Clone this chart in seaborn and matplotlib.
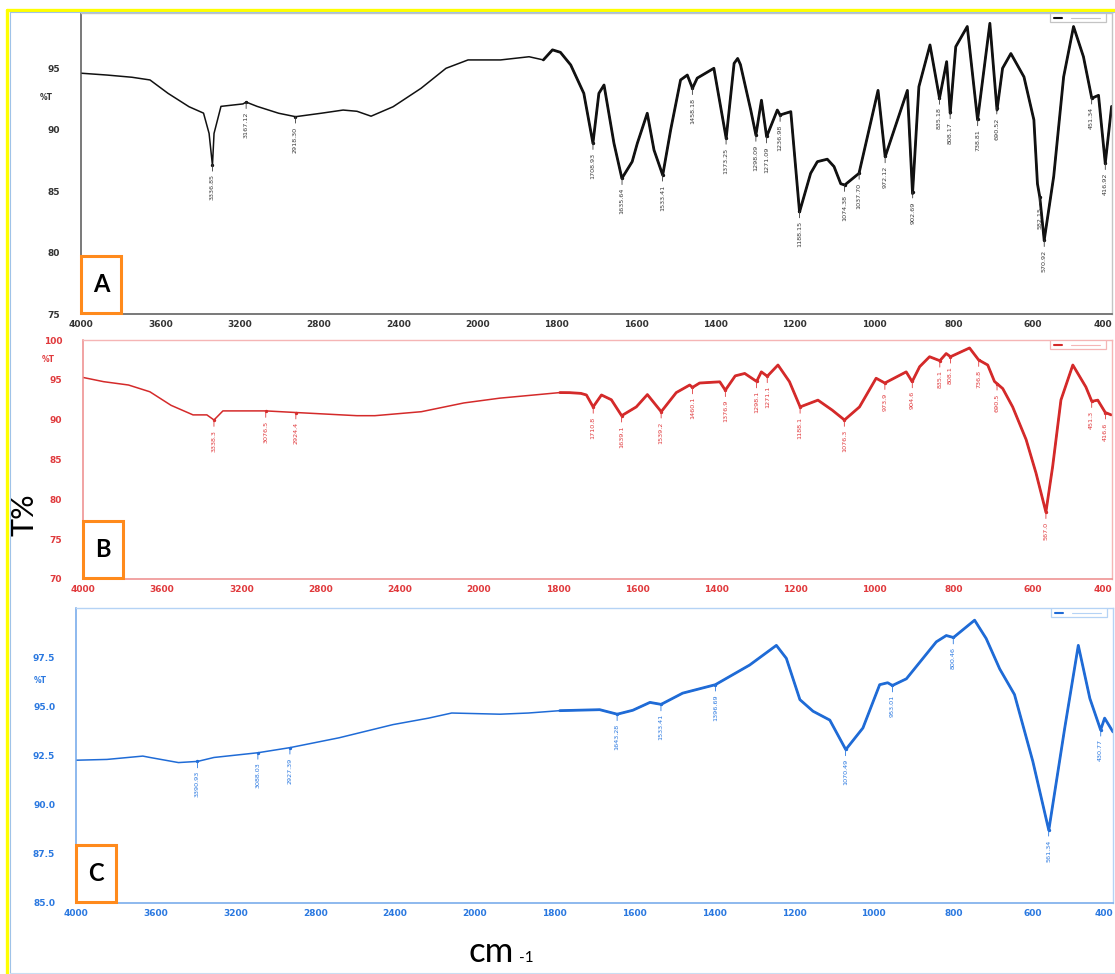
import numpy as np
import pandas as pd
import matplotlib
matplotlib.use("Agg")
import matplotlib.pyplot as plt
import matplotlib.transforms as mtransforms
from matplotlib.patches import Rectangle
from matplotlib.lines import Line2D
from matplotlib.ticker import FixedLocator, NullFormatter
import seaborn as sns

# ---------------- data ----------------
wn_a = [4000, 3869, 3743, 3652, 3561, 3455, 3382, 3354, 3337, 3329, 3294, 3183, 3167, 3112,
        3003, 2918, 2789, 2678, 2608, 2537, 2426, 2285, 2159, 2048, 1942, 1870, 1834, 1811,
        1791, 1765, 1732, 1709, 1694, 1681, 1656, 1636, 1610, 1597, 1572, 1555, 1533, 1513,
        1488, 1471, 1458, 1446, 1404, 1373, 1353, 1344, 1337, 1311, 1298, 1284, 1271, 1244,
        1237, 1210, 1188, 1160, 1143, 1118, 1101, 1084, 1074, 1038, 1017, 990, 972, 916, 903,
        887, 859, 835, 817, 808, 794, 765, 739, 708, 690, 676, 655, 622, 597, 588, 582, 571,
        547, 522, 497, 472, 451, 434, 417, 401]
t_a = [94.6, 94.45, 94.27, 94.05, 92.96, 91.87, 91.35, 89.7, 87.1, 89.7, 91.9, 92.1, 92.25, 91.9,
       91.34, 91.06, 91.34, 91.6, 91.5, 91.1, 91.87, 93.37, 95.0, 95.68, 95.68, 95.94, 95.68, 96.5,
       96.3, 95.27, 92.96, 88.9, 92.96, 93.64, 88.9, 86.04, 87.4, 88.9, 91.34, 88.35, 86.3, 89.98,
       94.05, 94.45, 93.37, 94.2, 95.0, 89.3, 95.4, 95.8, 95.3, 91.6, 89.57, 92.4, 89.43, 91.6,
       91.2, 91.47, 83.3, 86.45, 87.4, 87.6, 87.0, 85.6, 85.5, 86.45, 89.4, 93.2, 87.8, 93.2, 84.8,
       93.5, 96.9, 92.56, 95.54, 91.34, 96.76, 98.4, 90.8, 98.66, 91.6, 95.0, 96.2, 94.3, 90.8,
       85.6, 84.5, 81.0, 86.2, 94.3, 98.4, 95.94, 92.56, 92.8, 87.26, 91.9]
peaks_a = [3336.85, 3167.12, 2918.30, 1708.93, 1635.64, 1533.41, 1458.18, 1373.25, 1298.09,
           1271.09, 1236.98, 1188.15, 1074.38, 1037.70, 972.12, 902.69, 835.18, 808.17, 738.81,
           690.52, 582.15, 570.92, 451.34, 416.92]

wn_b = [4000, 3896, 3770, 3662, 3555, 3444, 3374, 3338, 3293, 3076, 2926, 2616, 2525, 2290,
        2075, 1947, 1795, 1770, 1742, 1728, 1711, 1690, 1665, 1639, 1602, 1574, 1539, 1501,
        1467, 1460, 1442, 1391, 1377, 1352, 1328, 1298, 1286, 1271, 1244, 1215, 1188, 1143,
        1107, 1076, 1038, 996, 974, 920, 905, 886, 861, 835, 819, 808, 760, 737, 714, 697,
        690, 676, 651, 617, 592, 567, 550, 529, 499, 466, 451, 436, 417, 402]
t_b = [95.3, 94.77, 94.35, 93.5, 91.8, 90.6, 90.6, 89.96, 91.1, 91.1, 90.9, 90.5, 90.5, 91.0,
       92.1, 92.7, 93.4, 93.39, 93.3, 93.1, 91.6, 93.1, 92.5, 90.5, 91.6, 93.15, 91.0, 93.4,
       94.35, 94.05, 94.6, 94.75, 93.7, 95.5, 95.8, 94.8, 96.0, 95.45, 96.86, 94.77, 91.6, 92.45,
       91.2, 89.96, 91.6, 95.2, 94.6, 96.0, 94.77, 96.65, 97.9, 97.4, 98.3, 97.9, 99.0, 97.5,
       96.86, 94.8, 94.5, 93.9, 91.6, 87.5, 83.3, 78.4, 84.1, 92.47, 96.86, 94.1, 92.3, 92.45,
       90.9, 90.6]
peaks_b = [3338.3, 3076.5, 2924.4, 1710.8, 1639.1, 1539.2, 1460.1, 1376.9, 1298.1, 1271.1,
           1188.1, 1076.3, 973.9, 904.6, 835.1, 808.1, 736.8, 690.5, 567.0, 451.3, 416.6]

wn_c = [4000, 3845, 3665, 3629, 3486, 3390, 3308, 3088, 2927, 2681, 2411, 2232, 2116, 1937,
        1866, 1787, 1687, 1643, 1604, 1561, 1533, 1479, 1397, 1311, 1244, 1219, 1185, 1152,
        1110, 1070, 1027, 985, 965, 953, 918, 843, 818, 800, 747, 718, 684, 647, 601, 561,
        521, 487, 458, 431, 421, 400]
t_c = [92.26, 92.3, 92.47, 92.4, 92.14, 92.2, 92.4, 92.64, 92.9, 93.4, 94.07, 94.4, 94.66, 94.6,
       94.66, 94.78, 94.83, 94.6, 94.8, 95.2, 95.1, 95.67, 96.1, 97.1, 98.1, 97.44, 95.34, 94.75,
       94.3, 92.8, 93.9, 96.1, 96.2, 96.06, 96.4, 98.28, 98.6, 98.5, 99.38, 98.45, 96.9, 95.6,
       92.2, 88.7, 93.9, 98.1, 95.4, 93.8, 94.4, 93.7]
peaks_c = [3390.93, 3088.03, 2927.39, 1643.28, 1533.41, 1396.69, 1070.49, 953.01, 800.46,
           561.34, 430.77]

x_major = [4000, 3600, 3200, 2800, 2400, 2000, 1800, 1600, 1400, 1200, 1000, 800, 600, 400]
panel_letters = ["A", "B", "C"]

# ---------------- style ----------------
sns.set_style("white")
plt.rcParams["font.family"] = ["DejaVu Sans"]
plt.rcParams["lines.solid_joinstyle"] = "round"

W, H = 1115, 974
fig = plt.figure(figsize=(W / 100, H / 100), dpi=100)


def rect(l, t, r, b):
    return [l / W, 1 - b / H, (r - l) / W, (b - t) / H]


def fwd(x):
    x = np.asarray(x, dtype=float)
    return np.where(x <= 2000, x, 2000 + (x - 2000) / 2.0)


def inv(y):
    y = np.asarray(y, dtype=float)
    return np.where(y <= 2000, y, 2000 + (y - 2000) * 2.0)


x_minor = sorted(set(list(range(4000, 1999, -80)) + list(range(2000, 399, -40))))

panels = [
    dict(wn=wn_a, t=t_a, peaks=peaks_a, fmt="{:.2f}", rect=rect(81, 13, 1112, 314),
         ylim=(75, 99.5), yt=[75, 80, 85, 90, 95], ymin=1.0, yfmt="{:.0f}",
         line="#111111", txt="#333333", spine_main="#555555", spine_alt="#c4c4c4",
         lab="#3a3a3a", pt_y=92.6),
    dict(wn=wn_b, t=t_b, peaks=peaks_b, fmt="{:.1f}", rect=rect(83, 340, 1112, 579),
         ylim=(70, 100), yt=[70, 75, 80, 85, 90, 95, 100], ymin=1.0, yfmt="{:.0f}",
         line="#d42a2a", txt="#e0393c", spine_main="#ee8a8a", spine_alt="#f5b5b5",
         lab="#e0393c", pt_y=97.6),
    dict(wn=wn_c, t=t_c, peaks=peaks_c, fmt="{:.2f}", rect=rect(76, 608, 1113, 903),
         ylim=(85, 100), yt=[85, 87.5, 90, 92.5, 95, 97.5], ymin=0.5, yfmt="{:.1f}",
         line="#1f6bd6", txt="#2a78e0", spine_main="#6fa6ea", spine_alt="#b5d3f5",
         lab="#2a78e0", pt_y=96.3),
]

for i, p in enumerate(panels):
    ax = fig.add_axes(p["rect"])
    df = pd.DataFrame({"wn": p["wn"], "T": p["t"]})
    ax.set_xscale("function", functions=(fwd, inv))
    sns.lineplot(data=df, x="wn", y="T", ax=ax, color=p["line"], lw=1.1,
                 estimator=None, sort=False)
    sns.lineplot(data=df[df["wn"] <= 1850], x="wn", y="T", ax=ax, color=p["line"],
                 lw=2.0, estimator=None, sort=False)
    ax.set_xlim(4000, 400)
    ax.set_ylim(*p["ylim"])
    ax.set_xlabel("")
    ax.set_ylabel("")

    ax.xaxis.set_major_locator(FixedLocator(x_major))
    ax.xaxis.set_minor_locator(FixedLocator(x_minor))
    ax.set_xticklabels([str(v) for v in x_major])
    ax.xaxis.set_minor_formatter(NullFormatter())
    ax.yaxis.set_major_locator(FixedLocator(p["yt"]))
    ax.set_yticklabels([p["yfmt"].format(v) for v in p["yt"]])
    ymn = np.arange(p["ylim"][0], p["ylim"][1] + 1e-6, p["ymin"])
    ax.yaxis.set_minor_locator(FixedLocator(ymn))
    ax.yaxis.set_minor_formatter(NullFormatter())

    ax.tick_params(axis="x", which="major", direction="inout", length=5, width=0.8,
                   colors=p["spine_main"], labelcolor=p["txt"], labelsize=6.5, pad=1.5)
    ax.tick_params(axis="x", which="minor", direction="inout", length=3, width=0.7,
                   colors=p["spine_main"])
    ax.tick_params(axis="y", which="major", direction="out", length=13, width=0.8,
                   colors=p["spine_main"], labelcolor=p["txt"], labelsize=6.5, pad=2)
    ax.tick_params(axis="y", which="minor", direction="out", length=6.5, width=0.7,
                   colors=p["spine_main"])
    for lbl in ax.get_xticklabels() + ax.get_yticklabels():
        lbl.set_fontweight("bold")
    xl = ax.get_xticklabels()
    xl[-1].set_horizontalalignment("right")

    for side in ["left", "bottom"]:
        ax.spines[side].set_color(p["spine_main"])
        ax.spines[side].set_linewidth(1.1)
    for side in ["top", "right"]:
        ax.spines[side].set_color(p["spine_alt"])
        ax.spines[side].set_linewidth(1.0)

    # peak labels
    wn_arr = np.array(p["wn"])[::-1]
    t_arr = np.array(p["t"])[::-1]
    for pk in p["peaks"]:
        ty = float(np.interp(pk, wn_arr, t_arr))
        ax.annotate(p["fmt"].format(pk), xy=(pk, ty), xytext=(0, -7),
                    textcoords="offset points", rotation=90, ha="center", va="top",
                    fontsize=4.6, color=p["lab"],
                    arrowprops=dict(arrowstyle="-", color=p["lab"], lw=0.6,
                                    shrinkA=0, shrinkB=0))
        ax.plot([pk], [ty], marker="o", ms=1.4, color=p["line"])

    # %T label
    trans = mtransforms.blended_transform_factory(ax.transAxes, ax.transData)
    ax.text(-0.034, p["pt_y"], "%T", transform=trans, ha="center", va="center",
            fontsize=5.5, fontweight="bold", color=p["txt"])

    # panel letter box
    bw, bh = 40 / (p["rect"][2] * W), 57 / (p["rect"][3] * H)
    ax.add_patch(Rectangle((0.0, 0.004), bw, bh, transform=ax.transAxes,
                           fill=True, facecolor="white", edgecolor="#ff8a1c",
                           lw=2.2, zorder=5, clip_on=False))
    ax.text(bw / 2, 0.004 + bh / 2, panel_letters[i], transform=ax.transAxes,
            ha="center", va="center", fontsize=17, fontweight="bold", color="black",
            family=["Lato", "DejaVu Sans"], zorder=6)

    # small legend box at top right
    lx0 = 1 - 62 / (p["rect"][2] * W)
    lw_ = 56 / (p["rect"][2] * W)
    lh = 9 / (p["rect"][3] * H)
    ax.add_patch(Rectangle((lx0, 1 - lh), lw_, lh, transform=ax.transAxes,
                           facecolor="white", edgecolor=p["spine_alt"], lw=0.9, zorder=5))
    ax.add_line(Line2D([lx0 + 0.004, lx0 + 0.012], [1 - lh / 2, 1 - lh / 2],
                       transform=ax.transAxes, color=p["line"], lw=1.5, zorder=6))
    ax.add_line(Line2D([lx0 + 0.02, lx0 + lw_ - 0.006], [1 - lh / 2, 1 - lh / 2],
                       transform=ax.transAxes, color=p["spine_alt"], lw=0.8, zorder=6))

# axis titles
fig.text(24 / W, 1 - 515 / H, "T%", rotation=90, ha="center", va="center",
         fontsize=22, family=["Lato", "DejaVu Sans"], color="black")
fig.text(468 / W, 1 - 962 / H, "cm", ha="left", va="baseline",
         fontsize=25, family=["Lato", "DejaVu Sans"], color="black")
fig.text(519 / W, 1 - 962 / H, "-1", ha="left", va="baseline",
         fontsize=11, family=["Lato", "DejaVu Sans"], color="black")

# frame lines
fig.add_artist(Line2D([7 / W, 1.0], [1 - 9.5 / H, 1 - 9.5 / H], transform=fig.transFigure,
                      color="#ffff00", lw=2.4))
fig.add_artist(Line2D([7 / W, 7 / W], [0.0, 1 - 9.5 / H], transform=fig.transFigure,
                      color="#ffff00", lw=2.4))
fig.add_artist(Line2D([10 / W, 1.0], [1 - 12 / H, 1 - 12 / H], transform=fig.transFigure,
                      color="#9fc3e8", lw=0.8))
fig.add_artist(Line2D([10 / W, 10 / W], [0.0, 1 - 12 / H], transform=fig.transFigure,
                      color="#9fc3e8", lw=0.8))
fig.add_artist(Line2D([10 / W, 1.0], [1.5 / H, 1.5 / H], transform=fig.transFigure,
                      color="#c9ddf2", lw=0.8))

fig.savefig("out.png", dpi=100, facecolor="white")
